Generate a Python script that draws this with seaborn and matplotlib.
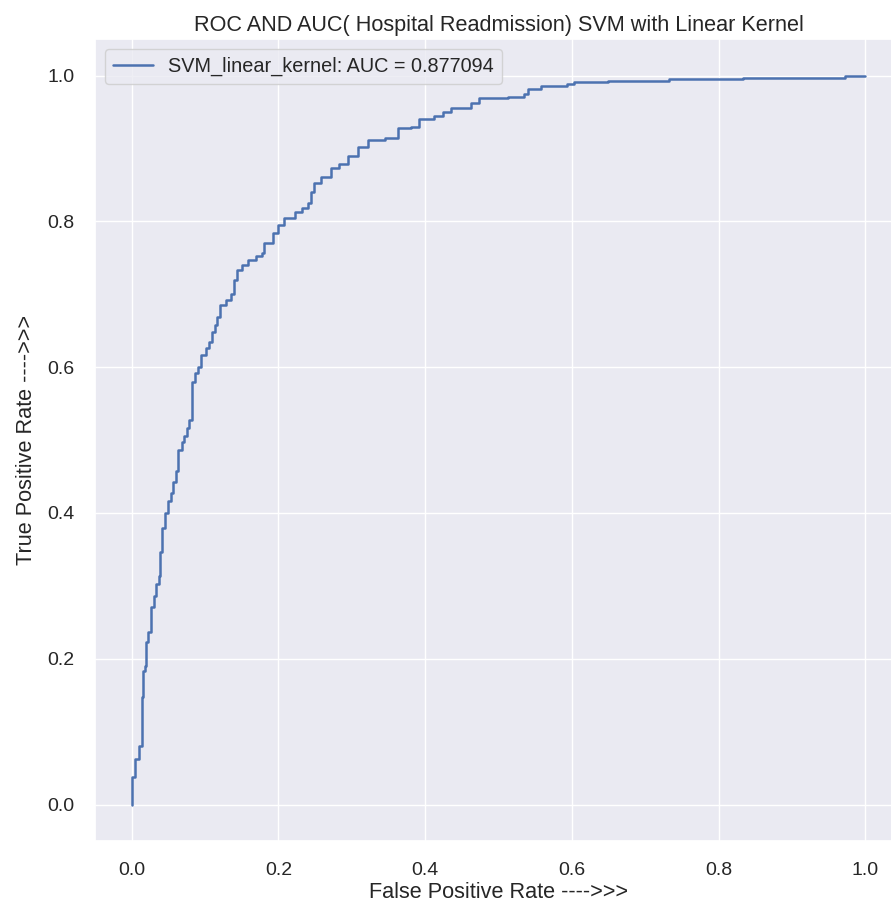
import seaborn as sns
import matplotlib.pyplot as plt
import pandas as pd

# ROC points (top of each vertical step)
fpr = [0.000, 0.000, 0.005, 0.010, 0.0136, 0.015, 0.018, 0.019, 0.022, 0.026,
       0.030, 0.033, 0.037, 0.039, 0.041, 0.045, 0.050, 0.053, 0.056, 0.060,
       0.063, 0.068, 0.072, 0.075, 0.078, 0.082, 0.087, 0.091, 0.094, 0.102,
       0.106, 0.110, 0.114, 0.117, 0.121, 0.128, 0.136, 0.140, 0.143, 0.150,
       0.159, 0.170, 0.177, 0.181, 0.193, 0.200, 0.208, 0.222, 0.232, 0.241,
       0.245, 0.249, 0.258, 0.272, 0.282, 0.295, 0.309, 0.322, 0.345, 0.363,
       0.381, 0.392, 0.412, 0.425, 0.435, 0.463, 0.473, 0.513, 0.535, 0.540,
       0.558, 0.594, 0.603, 0.649, 0.732, 0.834, 0.973, 1.000]
tpr = [0.000, 0.038, 0.063, 0.080, 0.148, 0.183, 0.190, 0.223, 0.237, 0.271,
       0.286, 0.302, 0.313, 0.346, 0.380, 0.400, 0.416, 0.428, 0.443, 0.457,
       0.487, 0.497, 0.505, 0.517, 0.528, 0.579, 0.592, 0.600, 0.617, 0.626,
       0.635, 0.648, 0.658, 0.669, 0.685, 0.692, 0.700, 0.720, 0.733, 0.740,
       0.747, 0.752, 0.756, 0.771, 0.784, 0.795, 0.804, 0.813, 0.818, 0.825,
       0.840, 0.852, 0.861, 0.873, 0.879, 0.890, 0.902, 0.911, 0.914, 0.928,
       0.929, 0.941, 0.945, 0.950, 0.955, 0.962, 0.969, 0.971, 0.975, 0.981,
       0.986, 0.989, 0.991, 0.993, 0.995, 0.997, 1.000, 1.000]
auc_value = 0.877094
model_name = "SVM_linear_kernel"

sns.set_theme(style="darkgrid", font_scale=1.3)
plt.rcParams['font.family'] = ['Liberation Sans', 'DejaVu Sans']

roc = pd.DataFrame({'fpr': fpr, 'tpr': tpr})

fig = plt.figure(figsize=(8.91, 9.02), dpi=100)
# axes run slightly past the right edge, as in the cropped reference
ax = fig.add_axes([0.1066, 0.0676, 0.9057, 0.889])
sns.lineplot(data=roc, x='fpr', y='tpr', sort=False, estimator=None,
             drawstyle='steps-post', linewidth=1.8,
             label=f"{model_name}: AUC = {auc_value:.6f}", ax=ax)
ax.set_title('ROC AND AUC( Hospital Readmission) SVM with Linear Kernel')
ax.set_xlabel('False Positive Rate ---->>>', labelpad=2)
ax.set_ylabel('True Positive Rate ---->>>', labelpad=7)
ax.tick_params(labelsize=14, pad=9)
ax.legend(loc='upper left')

fig.savefig('out.png', dpi=100)
